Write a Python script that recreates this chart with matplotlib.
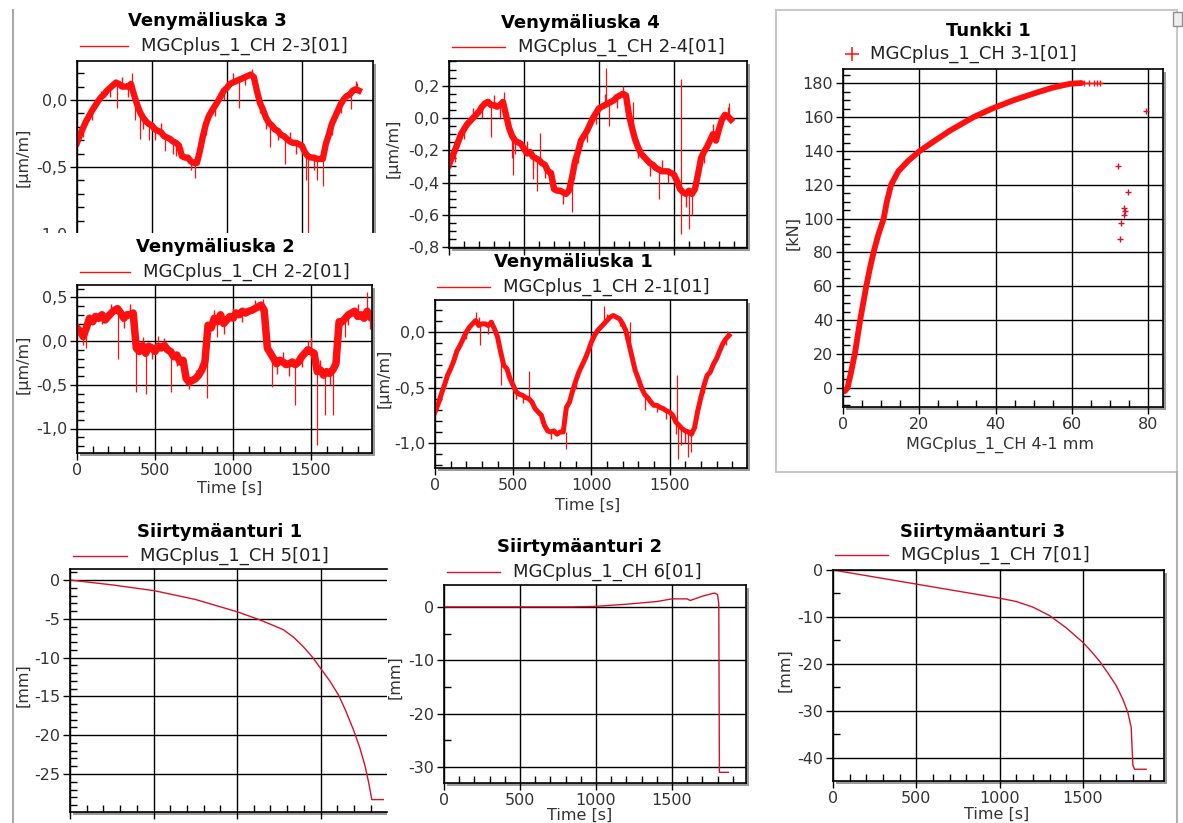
import numpy as np
import matplotlib
matplotlib.use("Agg")
from matplotlib import pyplot as plt
from matplotlib.patches import Rectangle
from matplotlib.lines import Line2D
from matplotlib.ticker import MultipleLocator, FuncFormatter

plt.rcParams['font.family'] = ['DejaVu Sans']
plt.rcParams['axes.unicode_minus'] = False

W, H = 1183, 823
RED = '#ff1010'
CRIMSON = '#d8102a'

# strain gauges, one sample every 20 s
t_strain = np.arange(0, 1881, 20)

vl3 = [-0.32, -0.26, -0.21, -0.16, -0.12, -0.08, -0.045, -0.01, 0.02, 0.04,
       0.07, 0.09, 0.11, 0.13, 0.12, 0.10, 0.10, 0.10, 0.12, 0.04,
       -0.03, -0.09, -0.13, -0.16, -0.18, -0.19, -0.22, -0.23, -0.24, -0.27,
       -0.28, -0.29, -0.31, -0.32, -0.34, -0.42, -0.43, -0.43, -0.46, -0.47,
       -0.47, -0.38, -0.27, -0.18, -0.12, -0.08, -0.045, -0.01, 0.03, 0.07,
       0.09, 0.12, 0.13, 0.14, 0.15, 0.16, 0.17, 0.18, 0.19, 0.17,
       0.07, -0.02, -0.07, -0.13, -0.17, -0.19, -0.22, -0.23, -0.26, -0.27,
       -0.29, -0.31, -0.32, -0.32, -0.33, -0.34, -0.39, -0.42, -0.43, -0.43,
       -0.44, -0.44, -0.44, -0.33, -0.26, -0.18, -0.13, -0.08, -0.03, 0.005,
       0.03, 0.04, 0.07, 0.08, 0.07]
vl3_spike_t = [270, 365, 385, 420, 480, 590, 660, 790, 1080, 1170, 1290, 1385, 1525, 1540, 1600, 1640, 1830, 1870]
vl3_spike_a = [0.12, 0.12, 0.04, -0.09, -0.18, -0.27, -0.32, -0.47, 0.15, 0.19, -0.17, -0.27, -0.39, -0.42, -0.44, -0.44, 0.04, 0.08]
vl3_spike_b = [-0.06, 0.20, -0.15, -0.29, -0.30, -0.38, -0.42, -0.58, -0.06, 0.23, -0.35, -0.48, -0.60, -1.2, -0.60, -0.64, -0.07, 0.13]
vl3_fuzz_t = [40, 100, 160, 220, 300, 340, 440, 520, 560, 640, 700, 760, 860, 920, 980, 1040, 1120,
              1220, 1260, 1340, 1420, 1460, 1580, 1700, 1760, 1860]
vl3_fuzz_tip = [-0.28, -0.15, 0.07, 0.02, 0.17, 0.02, -0.22, -0.30, -0.17, -0.40, -0.35, -0.52, -0.26, -0.12, 0.0,
                0.20, 0.11, -0.10, -0.22, -0.30, -0.24, -0.40, -0.52, -0.26, -0.10, 0.14]

vl4 = [-0.29, -0.24, -0.20, -0.15, -0.10, -0.07, -0.04, -0.02, 0.0, 0.02,
       0.04, 0.07, 0.09, 0.10, 0.08, 0.08, 0.07, 0.08, 0.10, 0.02,
       -0.06, -0.11, -0.14, -0.15, -0.16, -0.19, -0.22, -0.21, -0.24, -0.25,
       -0.26, -0.28, -0.29, -0.33, -0.34, -0.44, -0.45, -0.45, -0.46, -0.47,
       -0.45, -0.37, -0.27, -0.21, -0.14, -0.11, -0.08, -0.04, 0.0, 0.03,
       0.06, 0.07, 0.08, 0.09, 0.10, 0.11, 0.13, 0.14, 0.15, 0.14,
       0.02, -0.06, -0.13, -0.18, -0.22, -0.24, -0.26, -0.28, -0.29, -0.31,
       -0.32, -0.33, -0.33, -0.33, -0.34, -0.35, -0.39, -0.44, -0.46, -0.47,
       -0.45, -0.47, -0.44, -0.35, -0.25, -0.21, -0.18, -0.14, -0.10, -0.14,
       -0.07, -0.01, 0.02, 0.01, -0.01]
vl4_spike_t = [280, 365, 420, 430, 560, 590, 610, 820, 1050, 1070, 1230, 1400, 1545, 1550, 1600, 1620, 1870]
vl4_spike_a = [0.08, 0.10, -0.11, -0.11, -0.24, -0.25, -0.26, -0.37, 0.085, 0.09, -0.08, -0.32, -0.44, -0.44, -0.45, -0.47, 0.0]
vl4_spike_b = [-0.12, 0.16, -0.25, -0.35, -0.38, -0.45, -0.09, -0.58, 0.31, -0.05, 0.10, -0.50, 0.24, -0.72, -0.69, -0.60, 0.09]
vl4_fuzz_t = [40, 100, 160, 220, 300, 340, 440, 520, 560, 640, 700, 760, 860, 920, 980, 1040, 1120,
              1160, 1260, 1340, 1420, 1460, 1580, 1700, 1760, 1860]
vl4_fuzz_tip = [-0.27, -0.13, 0.06, 0.0, 0.14, 0.0, -0.22, -0.14, -0.31, -0.37, -0.37, -0.53, -0.28, -0.15, -0.04,
                0.15, 0.06, 0.20, -0.25, -0.36, -0.26, -0.40, -0.55, -0.28, -0.04, 0.07]

vl2 = [0.15, 0.11, 0.05, 0.15, 0.26, 0.22, 0.28, 0.26, 0.30, 0.24,
       0.28, 0.32, 0.35, 0.37, 0.32, 0.26, 0.30, 0.30, 0.32, -0.08,
       -0.12, -0.05, -0.14, -0.06, -0.08, -0.12, -0.06, -0.08, -0.05, -0.10,
       -0.12, -0.18, -0.16, -0.24, -0.22, -0.43, -0.47, -0.45, -0.43, -0.39,
       -0.33, -0.24, 0.18, 0.15, 0.26, 0.22, 0.30, 0.20, 0.24, 0.28,
       0.26, 0.32, 0.30, 0.34, 0.32, 0.34, 0.35, 0.37, 0.39, 0.41,
       0.35, -0.08, -0.14, -0.20, -0.26, -0.22, -0.24, -0.27, -0.26, -0.24,
       -0.27, -0.24, -0.18, -0.14, -0.10, -0.12, -0.14, -0.35, -0.33, -0.39,
       -0.35, -0.37, -0.33, -0.26, 0.22, 0.22, 0.26, 0.30, 0.32, 0.34,
       0.28, 0.30, 0.26, 0.34, 0.28]
vl2_spike_t = [60, 260, 380, 440, 520, 605, 700, 835, 900, 1190, 1250, 1400, 1500, 1540, 1590, 1640, 1720, 1860]
vl2_spike_a = [0.15, 0.37, 0.30, -0.14, -0.06, -0.12, -0.43, -0.24, 0.22, 0.41, -0.14, -0.27, -0.12, -0.35, -0.37, -0.33, 0.26, 0.34]
vl2_spike_b = [-0.08, -0.20, -0.58, -0.61, 0.06, -0.58, -0.50, -0.65, 0.05, 0.48, -0.53, -0.73, 0.05, -1.19, -0.85, -0.85, 0.05, 0.56]
vl2_fuzz_t = [40, 100, 160, 220, 300, 340, 420, 480, 560, 640, 720, 760, 880, 940, 1000, 1060, 1140,
              1280, 1320, 1360, 1440, 1480, 1560, 1620, 1740, 1800, 1880]
vl2_fuzz_tip = [-0.05, 0.32, 0.20, 0.42, 0.15, 0.42, 0.05, -0.20, 0.04, -0.28, -0.55, -0.33, 0.36, 0.08, 0.38,
                0.22, 0.47, -0.38, -0.12, -0.40, -0.30, 0.0, -0.22, -0.50, 0.18, 0.42, 0.14]

vl1 = [-0.72, -0.65, -0.56, -0.48, -0.39, -0.33, -0.26, -0.17, -0.12, -0.06,
       0.0, 0.045, 0.075, 0.105, 0.06, 0.075, 0.075, 0.06, 0.09, 0.03,
       -0.045, -0.18, -0.30, -0.33, -0.42, -0.48, -0.54, -0.56, -0.57, -0.59,
       -0.60, -0.63, -0.69, -0.72, -0.75, -0.84, -0.89, -0.90, -0.89, -0.92,
       -0.90, -0.90, -0.68, -0.63, -0.53, -0.44, -0.36, -0.30, -0.24, -0.17,
       -0.09, -0.03, 0.015, 0.045, 0.075, 0.105, 0.135, 0.15, 0.135, 0.12,
       0.075, 0.015, -0.105, -0.225, -0.345, -0.42, -0.50, -0.56, -0.59, -0.63,
       -0.66, -0.66, -0.68, -0.69, -0.71, -0.72, -0.75, -0.81, -0.84, -0.87,
       -0.89, -0.90, -0.92, -0.86, -0.71, -0.59, -0.48, -0.39, -0.36, -0.29,
       -0.24, -0.17, -0.105, -0.06, -0.03]
vl1_spike_t = [260, 290, 420, 600, 840, 1080, 1250, 1340, 1550, 1555, 1575, 1620, 1640, 1870]
vl1_spike_a = [0.10, 0.06, -0.18, -0.60, -0.90, 0.075, -0.15, -0.56, -0.82, -0.82, -0.86, -0.90, -0.92, -0.05]
vl1_spike_b = [0.18, -0.12, -0.48, -0.35, -1.05, 0.24, 0.09, -0.70, -0.39, -1.14, -1.02, -1.13, -1.08, 0.01]
vl1_fuzz_t = [40, 120, 200, 280, 340, 460, 520, 560, 680, 740, 900, 1000, 1100, 1180, 1300, 1420, 1480,
              1540, 1600, 1720, 1800, 1860]
vl1_fuzz_tip = [-0.62, -0.20, -0.06, 0.14, -0.02, -0.40, -0.60, -0.64, -0.82, -0.96, -0.50, -0.03, 0.16, 0.06,
                -0.48, -0.72, -0.78, -0.92, -1.0, -0.55, -0.18, -0.12]

# jack force vs displacement
tk_x = [0.5, 1.2, 2.0, 3.1, 3.8, 4.5, 5.3, 6.1, 7.0, 8.0, 9.2, 10.65, 11.5, 12.6, 14.5,
        17.0, 20.1, 24.0, 28.0, 34.2, 39.0, 44.7, 50.0, 55.0, 59.6, 62.5]
tk_y = [-2, 0, 8, 20, 30, 40, 50, 60, 70, 80, 90, 100, 110, 120, 128,
        134, 140, 146, 152, 160, 165, 170, 174, 177.5, 179.8, 180.2]
tk_tail_x = [63.2, 64.4, 65.7, 66.5, 67.4]
tk_tail_y = [180.3, 180.3, 180.3, 180.3, 180.3]
tk_out_x = [72.0, 74.6, 73.8, 74.0, 73.7, 72.8, 72.5, 79.5]
tk_out_y = [131.4, 116.0, 106.0, 104.7, 102.2, 97.6, 88.2, 163.7]

# displacement sensors
s1_t = [0, 250, 503, 750, 1002, 1138, 1200, 1277, 1340, 1397, 1450, 1501, 1555, 1607, 1650, 1697,
        1735, 1767, 1790, 1807, 1876]
s1_v = [0, -0.62, -1.37, -2.5, -4.1, -5.15, -5.7, -6.4, -7.4, -8.6, -9.9, -11.4, -13.0, -14.8, -16.8, -19.3,
        -21.6, -24.0, -26.3, -28.3, -28.3]
s2_t = [0, 845, 1000, 1200, 1400, 1500, 1600, 1620, 1700, 1780, 1800, 1808, 1812, 1871]
s2_v = [0, 0, 0.1, 0.5, 1.0, 1.5, 1.5, 1.2, 2.0, 2.6, 2.3, 0.5, -31.0, -31.0]
s3_t = [0, 250, 500, 750, 1000, 1100, 1200, 1300, 1400, 1500, 1550, 1600, 1650, 1700, 1740, 1770,
        1790, 1800, 1810, 1880]
s3_v = [0, -1.5, -3.0, -4.5, -6.0, -6.7, -7.9, -9.7, -12.3, -15.4, -17.3, -19.4, -21.9, -24.6, -27.5, -30.3,
        -33.5, -41.5, -42.4, -42.4]

fig = plt.figure(figsize=(W / 100, H / 100), dpi=100)
fig.patch.set_facecolor('white')


def fx(x):
    return x / W


def fy(y):
    return 1 - y / H


def comma(v, dec):
    if abs(v) < 1e-9:
        v = 0.0
    return f'{v:.{dec}f}'.replace('.', ',')


def panel(l, t, r, b, xlim, ylim, xstep, xminor, ystep, yminor, dec, z=1, right=True):
    sr = r + 3 if right else r
    fig.add_artist(Rectangle((fx(l + 3), fy(b + 3)), fx(sr - l - 3), (b - t) / H,
                             transform=fig.transFigure, facecolor='#9a9a9a', edgecolor='none',
                             zorder=z - 0.2))
    ax = fig.add_axes([fx(l), fy(b), fx(r - l), (b - t) / H], zorder=z)
    ax.set_xlim(*xlim)
    ax.set_ylim(*ylim)
    ax.xaxis.set_major_locator(MultipleLocator(xstep))
    ax.xaxis.set_minor_locator(MultipleLocator(xminor))
    ax.yaxis.set_major_locator(MultipleLocator(ystep))
    ax.yaxis.set_minor_locator(MultipleLocator(yminor))
    ax.yaxis.set_major_formatter(FuncFormatter(lambda v, p: comma(v, dec)))
    ax.xaxis.set_major_formatter(FuncFormatter(lambda v, p: f'{v:.0f}'))
    ax.grid(which='major', color='black', lw=1.0)
    ax.tick_params(which='major', direction='out', length=5, width=1.0, color='black',
                   labelcolor='#333333', labelsize=11.5, pad=2)
    ax.tick_params(which='minor', direction='in', length=5, width=1.0, color='black')
    for s in ax.spines.values():
        s.set_linewidth(1.2)
        s.set_color('black')
    if not right:
        ax.spines['right'].set_visible(False)
    return ax


def strain(ax, vals, lw, sp_t, sp_a, sp_b, fz_t, fz_tip):
    base = dict(zip(t_strain.tolist(), vals))
    ax.vlines(fz_t, [base[t] for t in fz_t], fz_tip, color=RED, lw=1.0)
    ax.plot(t_strain, vals, color=RED, lw=lw)
    ax.vlines(sp_t, sp_a, sp_b, color=RED, lw=0.9)


def head(cx, cy, title, lx0, lx1, ly, label, color=RED, marker=False):
    fig.text(fx(cx), fy(cy), title, ha='center', va='center', fontsize=13, fontweight='bold',
             color='black', zorder=4)
    if marker:
        fig.add_artist(Line2D([fx(lx0)], [fy(ly)], marker='+', ms=10, mew=1.1, color=color,
                              linestyle='none', transform=fig.transFigure, zorder=4))
    else:
        fig.add_artist(Line2D([fx(lx0), fx(lx1)], [fy(ly), fy(ly)], color=color, lw=1.0,
                              transform=fig.transFigure, zorder=4))
    fig.text(fx(lx1 + 13), fy(ly), label, ha='left', va='center', fontsize=13, color='#222222', zorder=4)


def ylab(x, y, s):
    fig.text(fx(x), fy(y), s, rotation=90, ha='center', va='center', fontsize=11.5,
             color='#333333', zorder=4)


def xlab(x, y, s):
    fig.text(fx(x), fy(y), s, ha='center', va='center', fontsize=11.5, color='#333333', zorder=4)


# Venymäliuska 3 (cut off at the bottom by the panel below)
ax = panel(77, 61, 373, 254, (0, 1975), (-1.15, 0.291), 500, 100, 0.5, 0.1, 1, z=0)
strain(ax, vl3, 4.6, vl3_spike_t, vl3_spike_a, vl3_spike_b, vl3_fuzz_t, vl3_fuzz_tip)
ax.tick_params(labelbottom=False)
fig.add_artist(Rectangle((fx(15), fy(284)), fx(370), 51 / H, transform=fig.transFigure,
                         facecolor='white', edgecolor='none', zorder=0.5))
head(207, 21, 'Venymäliuska 3', 80, 128, 46, 'MGCplus_1_CH 2-3[01]')
ylab(23, 157, '[µm/m]')

# Venymäliuska 4
ax = panel(449, 61, 747, 248, (0, 1987), (-0.805, 0.353), 500, 100, 0.2, 0.05, 1)
strain(ax, vl4, 4.6, vl4_spike_t, vl4_spike_a, vl4_spike_b, vl4_fuzz_t, vl4_fuzz_tip)
ax.tick_params(labelbottom=False)
head(580, 23, 'Venymäliuska 4', 452, 505, 47, 'MGCplus_1_CH 2-4[01]')
ylab(393, 148, '[µm/m]')

# Venymäliuska 2
ax = panel(77, 285, 372, 453, (0, 1891), (-1.28, 0.64), 500, 100, 0.5, 0.1, 1)
strain(ax, vl2, 5.4, vl2_spike_t, vl2_spike_a, vl2_spike_b, vl2_fuzz_t, vl2_fuzz_tip)
head(215, 247, 'Venymäliuska 2', 80, 130, 272, 'MGCplus_1_CH 2-2[01]')
ylab(23, 364, '[µm/m]')
xlab(230, 488, 'Time [s]')

# Venymäliuska 1
ax = panel(435, 300, 747, 468, (0, 1995), (-1.225, 0.29), 500, 100, 0.5, 0.1, 1)
strain(ax, vl1, 3.6, vl1_spike_t, vl1_spike_a, vl1_spike_b, vl1_fuzz_t, vl1_fuzz_tip)
head(573, 262, 'Venymäliuska 1', 437, 490, 287, 'MGCplus_1_CH 2-1[01]')
ylab(384, 378, '[µm/m]')
xlab(588, 505, 'Time [s]')

# Tunkki 1
fig.add_artist(Rectangle((fx(776), fy(472)), fx(401), 462 / H, transform=fig.transFigure,
                         facecolor='none', edgecolor='#c8c8c8', lw=1.5, zorder=0.3))
ax = panel(843, 69, 1163, 407, (0, 83.9), (-11.4, 188.5), 20, 5, 20, 5, 0)
ax.plot(tk_x, tk_y, color=RED, lw=4.2, solid_capstyle='round')
ax.plot(tk_tail_x, tk_tail_y, '+', color=RED, ms=5, mew=1)
ax.plot(tk_out_x, tk_out_y, '+', color=CRIMSON, ms=5, mew=1)
head(988, 31, 'Tunkki 1', 852, 857, 54, 'MGCplus_1_CH 3-1[01]', marker=True)
ylab(793, 233, '[kN]')
xlab(1000, 445, 'MGCplus_1_CH 4-1 mm')

# Siirtymäanturi 1 (right part cut off)
ax = panel(70, 569, 387, 812, (0, 1898), (-29.9, 1.42), 500, 100, 5, 1, 0, right=False)
ax.plot(s1_t, s1_v, color=CRIMSON, lw=1.0)
ax.tick_params(labelbottom=False)
head(220, 532, 'Siirtymäanturi 1', 73, 127, 556, 'MGCplus_1_CH 5[01]', color=CRIMSON)
ylab(23, 685, '[mm]')

# Siirtymäanturi 2
ax = panel(444, 585, 746, 783, (0, 1987), (-33.0, 4.1), 500, 100, 10, 5, 0)
ax.plot(s2_t, s2_v, color=CRIMSON, lw=1.0)
head(580, 547, 'Siirtymäanturi 2', 447, 500, 572, 'MGCplus_1_CH 6[01]', color=CRIMSON)
ylab(395, 677, '[mm]')
xlab(580, 815, 'Time [s]')

# Siirtymäanturi 3
ax = panel(833, 570, 1164, 781, (0, 1987), (-44.9, 0), 500, 100, 10, 5, 0)
ax.plot(s3_t, s3_v, color=CRIMSON, lw=1.0)
head(983, 532, 'Siirtymäanturi 3', 835, 888, 555, 'MGCplus_1_CH 7[01]', color=CRIMSON)
ylab(785, 670, '[mm]')
xlab(997, 814, 'Time [s]')

# window frame lines
fig.add_artist(Line2D([fx(13), fx(13)], [fy(10), fy(823)], color='#a8a8a8', lw=1.5,
                      transform=fig.transFigure, zorder=5))
fig.add_artist(Line2D([fx(1177), fx(1177)], [fy(472), fy(823)], color='#b0b0b0', lw=1.5,
                      transform=fig.transFigure, zorder=5))
fig.add_artist(Rectangle((fx(1173), fy(26)), fx(9), 14 / H, transform=fig.transFigure,
                         facecolor='#eeeeee', edgecolor='#909090', lw=1, zorder=5))

fig.savefig('out.png', dpi=100)
